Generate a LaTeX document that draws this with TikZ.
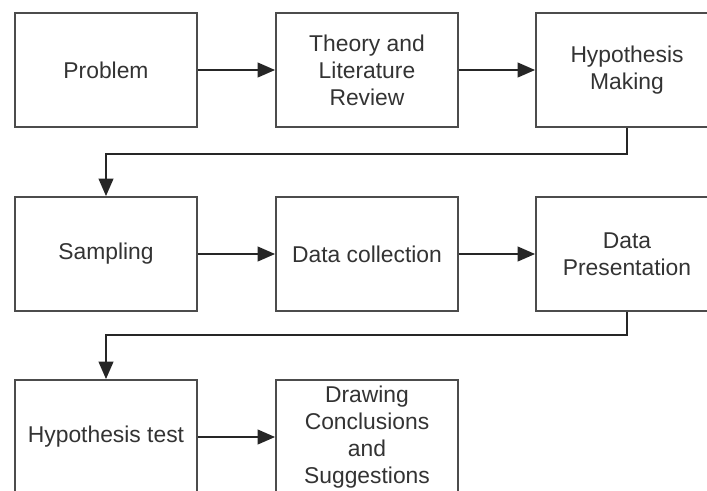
\documentclass[tikz,border=0pt]{standalone}
\usepackage{fontspec}
\setmainfont{Liberation Sans}
\usetikzlibrary{arrows.meta}
\tikzset{
  stepbox/.style={draw=black!70, line width=1.6pt, fill=white, text=black!80,
    minimum width=5.46cm, minimum height=3.42cm, align=center,
    font=\fontsize{19.5}{23}\selectfont, inner sep=0pt},
  flow/.style={draw=black!85, line width=1.5pt, -{Triangle[length=0.52cm,width=0.44cm]}}
}
\begin{document}
\begin{tikzpicture}[x=0.03cm, y=-0.03cm]
		%%%%% FRAME %%%%%
		\useasboundingbox (0, 0) rectangle (707, 490);
		\clip (0, 0) rectangle (707, 490);
		
		%%%%% ROW 1 %%%%%
		\node[stepbox] (prob) at (106, 70) {Problem};
		\node[stepbox] (theo) at (367, 70) {Theory and\\Literature\\Review};
		\node[stepbox] (hypm) at (627, 70) {Hypothesis\\Making};
		
		%%%%% ROW 2 %%%%%
		\node[stepbox] (samp) at (106, 254) {Sampling};
		\node[stepbox] (coll) at (367, 254) {Data collection};
		\node[stepbox] (pres) at (627, 254) {Data\\Presentation};
		
		%%%%% ROW 3 %%%%%
		\node[stepbox] (test) at (106, 437) {Hypothesis test};
		\node[stepbox] (conc) at (367, 437) {Drawing\\Conclusions\\and\\Suggestions};
		
		%%%%% ARROWS %%%%%
		\draw[flow] (prob) -- (theo);
		\draw[flow] (theo) -- (hypm);
		\draw[flow] (hypm.south) -- ++(0, 26) -| (samp.north);
		
		\draw[flow] (samp) -- (coll);
		\draw[flow] (coll) -- (pres);
		\draw[flow] (pres.south) -- ++(0, 23) -| (test.north);
		
		\draw[flow] (test) -- (conc);
		
		%%%%% END %%%%%
	\end{tikzpicture}
\end{document}
